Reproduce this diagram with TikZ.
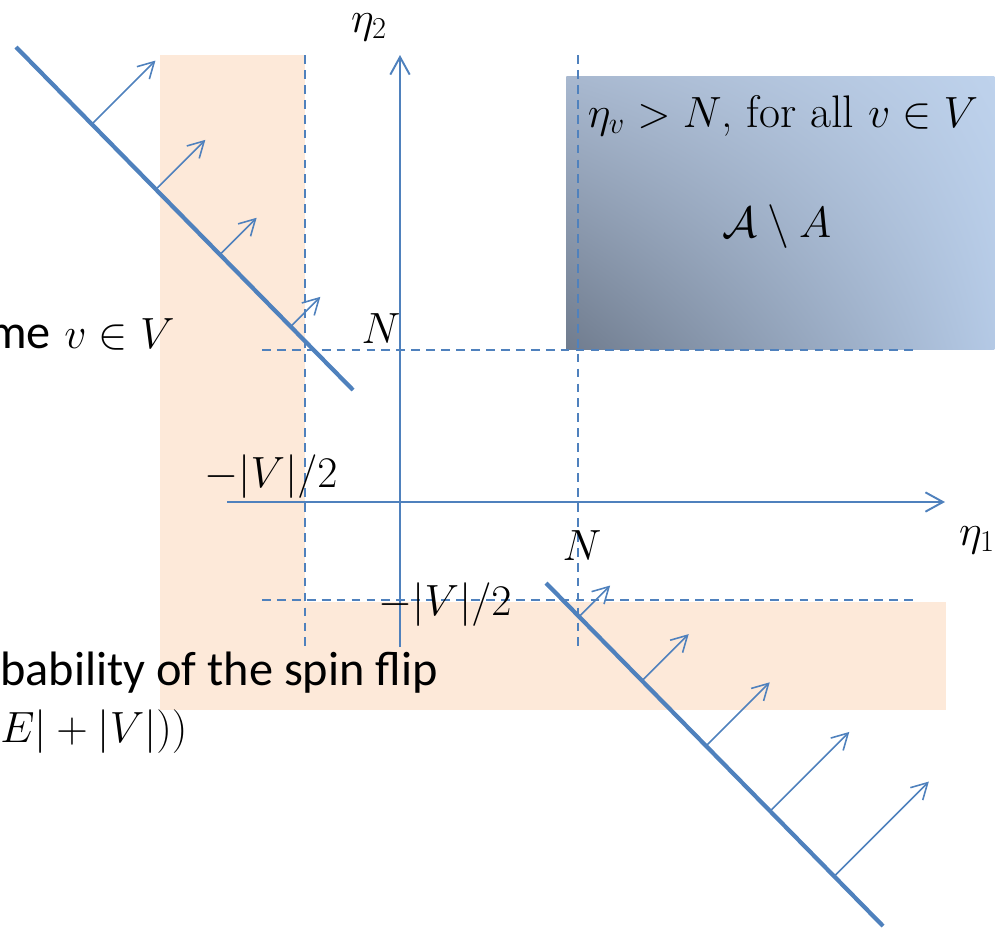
\documentclass[tikz,border=0pt]{standalone}
\usepackage{fontspec}
\newfontfamily\labelfont{Carlito}
\usetikzlibrary{arrows.meta, calc, shadings}
\definecolor{axisblue}{RGB}{79,129,189}
\definecolor{peach}{RGB}{253,233,217}
\definecolor{boxdark}{RGB}{112,124,142}
\definecolor{boxmid}{RGB}{168,184,207}
\definecolor{boxlight}{RGB}{190,210,236}
\definecolor{boxlow}{RGB}{180,201,229}

\begin{document}
\begin{tikzpicture}[
  x=0.02cm, y=-0.02cm,
  axis/.style={-{Straight Barb[length=10pt, width=11pt]}, line width=1.1pt, color=axisblue},
  grid/.style={dash pattern=on 5pt off 3.5pt, line width=1pt, color=axisblue},
  wall/.style={line width=2.4pt, color=axisblue},
  push/.style={-{Straight Barb[length=9pt, width=10pt]}, line width=0.9pt, color=axisblue},
  lab/.style={font=\fontsize{26}{30}\selectfont, inner sep=0pt},
  word/.style={font=\fontsize{27.5}{32}\selectfont\labelfont, inner sep=0pt}
]
\useasboundingbox (0,0) rectangle (1008,931);

% Shaded strips
\fill[peach] (160,55) rectangle (305,710);
\fill[peach] (160,602) rectangle (946,710);

% Region box
\node[anchor=north west, inner sep=0pt, minimum width=8.56cm, minimum height=5.46cm,
      upper left=boxmid, upper right=boxlight, lower left=boxdark, lower right=boxlow]
      (region) at (566,76) {};
\node[lab, anchor=base] (cond) at (783,127) {$\eta_v > N$, for all $v \in V$};
\node[lab, anchor=base] (diff) at (777,237) {$\mathcal{A} \setminus A$};

% Dashed guides
\coordinate (gxa) at (305,55);  \coordinate (gxb) at (305,647);
\coordinate (gNa) at (578,55);  \coordinate (gNb) at (578,647);
\coordinate (gya) at (262,350); \coordinate (gyb) at (913,350);
\coordinate (gza) at (262,600); \coordinate (gzb) at (913,600);
\draw[grid] (gxa) -- (gxb);
\draw[grid] (gNa) -- (gNb);
\draw[grid] (gya) -- (gyb);
\draw[grid] (gza) -- (gzb);

% Axes
\coordinate (o1) at (227,502); \coordinate (e1) at (945,502);
\coordinate (o2) at (400,647); \coordinate (e2) at (400,55);
\draw[axis] (o1) -- (e1);
\draw[axis] (o2) -- (e2);

% Walls with their pushing arrows
\coordinate (wa) at (16,47);   \coordinate (wb) at (353,390);
\coordinate (wc) at (546,583); \coordinate (wd) at (883,926);
\draw[wall] (wa) -- (wb);
\draw[wall] (wc) -- (wd);
\foreach \t/\len in {0.225/90, 0.415/70, 0.605/52, 0.815/42}
  \draw[push] ($(wa)!\t!(wb)$) -- ++(0.707*\len,-0.707*\len);
\foreach \t/\len in {0.098/44, 0.285/66, 0.475/90, 0.665/112, 0.855/134}
  \draw[push] ($(wc)!\t!(wd)$) -- ++(0.707*\len,-0.707*\len);

% Labels
\node[lab, anchor=base] (eta2) at (369,32) {$\eta_2$};
\node[lab, anchor=base] (eta1) at (977,545) {$\eta_1$};
\node[lab, anchor=base] (Nup) at (381,343) {$N$};
\node[lab, anchor=base] (Nlow) at (582,560) {$N$};
\node[lab, anchor=base] (hup) at (271,487) {$-|V|/2$};
\node[lab, anchor=base] (hlow) at (445,615) {$-|V|/2$};
\node[lab, anchor=base east] (some) at (175,348) {{\fontsize{27.5}{32}\selectfont\labelfont me} $v \in V$};
\node[word, anchor=base west] (prob) at (0,685) {bability of the spin flip};
\node[lab, anchor=base west] (rate) at (0,742) {$E| + |V|))$};

\end{tikzpicture}
\end{document}
